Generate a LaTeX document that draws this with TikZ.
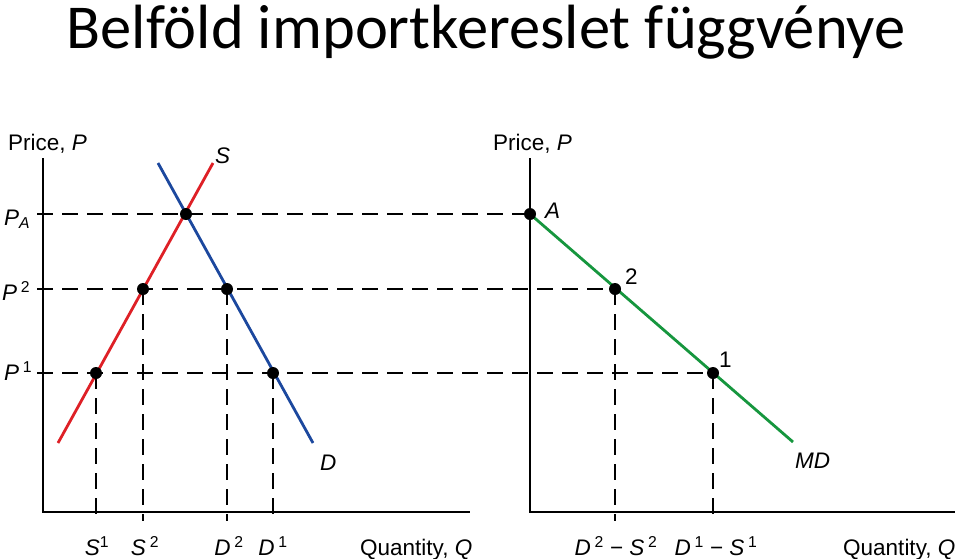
\documentclass[tikz,border=0pt]{standalone}
\usepackage{fontspec}
\setmainfont{Liberation Sans}
\newfontfamily\titlefont{Carlito}
\definecolor{supplyred}{RGB}{222,32,38}
\definecolor{demandblue}{RGB}{28,72,158}
\definecolor{mdgreen}{RGB}{22,150,62}
\begin{document}
\begin{tikzpicture}[x=1pt,y=-1pt,font=\fontsize{22.5}{27}\selectfont,
  axis/.style={line width=2.8pt},
  guide/.style={line width=1.4pt,dash pattern=on 16pt off 9pt},
  curve/.style={line width=2.8pt},
  dot/.style={circle,fill=black,inner sep=0pt,minimum size=12pt},
  lbl/.style={inner sep=0pt,anchor=base west},
  tick/.style={inner sep=0pt,anchor=base}]
  \useasboundingbox (0,0) rectangle (960,558);
  \node[tick] (title) at (486,48) {\titlefont\fontsize{62.5}{70}\selectfont Belföld importkereslet függvénye};
  % points
  \coordinate (pA) at (186,214); \coordinate (ps2) at (143,289); \coordinate (pd2) at (227,289);
  \coordinate (ps1) at (96,373); \coordinate (pd1) at (273,373);
  \coordinate (pmA) at (530,214); \coordinate (pm2) at (615,289); \coordinate (pm1) at (713,373);
  % guides
  \coordinate (gA) at (37,214); \coordinate (g2) at (37,289); \coordinate (g1) at (37,373);
  \draw[guide] (gA) -- (pmA); \draw[guide] (g2) -- (pm2); \draw[guide] (g1) -- (pm1);
  \foreach \p/\x in {ps1/96,ps2/143,pd2/227,pd1/273,pm2/615,pm1/713}
    \draw[guide] (\p) -- (\x,521);
  % axes
  \draw[axis] (43,158) coordinate (ltop) -- (43,512) coordinate (lorig) -- (470,512) coordinate (lend);
  \draw[axis] (530,158) coordinate (rtop) -- (530,512) coordinate (rorig) -- (955,512) coordinate (rend);
  % curves
  \draw[curve,supplyred] (58,443) coordinate (sbot) -- (213,163) coordinate (stop);
  \draw[curve,demandblue] (158,163) coordinate (dtop) -- (313,443) coordinate (dbot);
  \draw[curve,mdgreen] (pmA) -- (793,442) coordinate (mdend);
  \foreach \p in {pA,ps2,pd2,ps1,pd1,pmA,pm2,pm1} \node[dot] (dot-\p) at (\p) {};
  % labels
  \node[lbl] (pricel) at (8,150) {Price, \textit{P}}; \node[lbl] (pricer) at (493,150) {Price, \textit{P}};
  \node[lbl] (lPA) at (4,225) {\textit{P}\textsubscript{\textit{A}}};
  \node[lbl] (lP2) at (2,300) {\textit{P}\,\textsuperscript{2}};
  \node[lbl] (lP1) at (4,380) {\textit{P}\,\textsuperscript{1}};
  \node[lbl] (lS) at (215,163) {\textit{S}}; \node[lbl] (lD) at (320,470) {\textit{D}};
  \node[lbl] (lA) at (545,218) {\textit{A}}; \node[lbl] (l2) at (625,284) {2};
  \node[lbl] (l1) at (719,367) {1}; \node[lbl] (lMD) at (795,468) {\textit{MD}};
  \node[tick] (qs1) at (97,555) {\textit{S}\textsuperscript{1}};
  \node[tick] (qs2) at (145,555) {\textit{S}\,\textsuperscript{2}};
  \node[tick] (qd2) at (229,555) {\textit{D}\,\textsuperscript{2}};
  \node[tick] (qd1) at (273,555) {\textit{D}\,\textsuperscript{1}};
  \node[tick] (qm2) at (616,555) {\textit{D}\,\textsuperscript{2} − \textit{S}\,\textsuperscript{2}};
  \node[tick] (qm1) at (716,555) {\textit{D}\,\textsuperscript{1} − \textit{S}\,\textsuperscript{1}};
  \node[lbl] (quantl) at (360,555) {Quantity, \textit{Q}}; \node[lbl] (quantr) at (843,555) {Quantity, \textit{Q}};
\end{tikzpicture}
\end{document}
